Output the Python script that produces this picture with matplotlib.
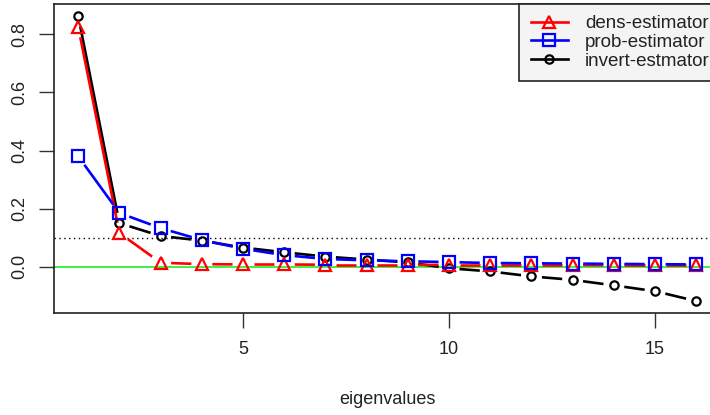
"""
Eigenvalue estimators compared: dens, prob and invert, drawn R type="b" style.
"""

import numpy as np
import matplotlib
matplotlib.use("Agg")
import matplotlib.pyplot as plt
from matplotlib.lines import Line2D

plt.rcParams["font.family"] = ["Liberation Sans", "DejaVu Sans"]

eigen_index = list(range(1, 17))
dens_estimator = [0.825, 0.116, 0.014, 0.009, 0.008, 0.008, 0.007, 0.007,
                  0.007, 0.006, 0.006, 0.006, 0.006, 0.005, 0.005, 0.005]
prob_estimator = [0.38, 0.185, 0.133, 0.092, 0.062, 0.040, 0.027, 0.022,
                  0.019, 0.016, 0.013, 0.012, 0.011, 0.010, 0.009, 0.008]
invert_estimator = [0.862, 0.150, 0.106, 0.090, 0.066, 0.050, 0.035, 0.025,
                    0.015, -0.005, -0.016, -0.033, -0.045, -0.064, -0.084, -0.118]

series = [
    ("invert-estmator", invert_estimator, "black", "o", 6),
    ("dens-estimator", dens_estimator, "red", "^", 8),
    ("prob-estimator", prob_estimator, "blue", "s", 8),
]
legend_order = ["dens-estimator", "prob-estimator", "invert-estmator"]

fig = plt.figure(figsize=(7.1, 4.15), dpi=100)
ax = fig.add_axes([53.5 / 710, 102 / 415, 667.5 / 710, 309 / 415])
ax.set_xlim(0.4, 16.6)
ax.set_ylim(-0.159, 0.904)

ax.axhline(0.1, color="black", lw=1.0, linestyle=(0, (1, 2.5)), zorder=1)
ax.axhline(0.0, color="#33ee33", lw=1.3, zorder=1)


def gapped_lines(ax, xs, ys, color, gap_px=10.5, zorder=2):
    """Draw segments between points leaving a gap around each point (R type='b')."""
    pts = ax.transData.transform(np.column_stack([xs, ys]))
    inv = ax.transData.inverted()
    for p0, p1 in zip(pts[:-1], pts[1:]):
        d = p1 - p0
        length = np.hypot(*d)
        if length <= 2 * gap_px:
            continue
        u = d / length
        a = inv.transform(p0 + u * gap_px)
        b = inv.transform(p1 - u * gap_px)
        ax.plot([a[0], b[0]], [a[1], b[1]], color=color, lw=1.9,
                solid_capstyle="butt", zorder=zorder)


handles = {}
for z, (name, values, color, marker, msize) in enumerate(series):
    gapped_lines(ax, eigen_index, values, color, zorder=2 + z * 0.1)
    ax.plot(eigen_index, values, linestyle="none", marker=marker, markersize=msize,
            markerfacecolor="none", markeredgecolor=color, markeredgewidth=1.6,
            zorder=3 + z * 0.1)
    handles[name] = Line2D([], [], color=color, lw=1.9, marker=marker,
                           markersize=msize, markerfacecolor="none",
                           markeredgecolor=color, markeredgewidth=1.6)

ax.set_xticks([5, 10, 15])
ax.set_yticks([0.0, 0.2, 0.4, 0.6, 0.8])
ax.set_yticklabels(["0.0", "0.2", "0.4", "0.6", "0.8"], rotation=90, va="center")
ax.tick_params(axis="both", labelsize=13, length=11, width=1.0, color="#333333",
               labelcolor="#222222")
ax.tick_params(axis="x", pad=9)
ax.tick_params(axis="y", pad=7)
for spine in ax.spines.values():
    spine.set_linewidth(1.2)
    spine.set_color("#222222")

ax.set_xlabel("eigenvalues", fontsize=13, color="#222222", labelpad=24)

leg = ax.legend([handles[n] for n in legend_order], legend_order,
                loc="upper right", bbox_to_anchor=(1.0, 1.0), borderaxespad=0,
                fontsize=13.5, frameon=True, fancybox=False, framealpha=1,
                facecolor="#f4f4f4", edgecolor="#222222", handlelength=2.0,
                handletextpad=0.9, labelspacing=0.08, borderpad=0.6)
leg.get_frame().set_linewidth(1.2)
for text in leg.get_texts():
    text.set_color("#222222")

fig.savefig("out.png", dpi=100)
